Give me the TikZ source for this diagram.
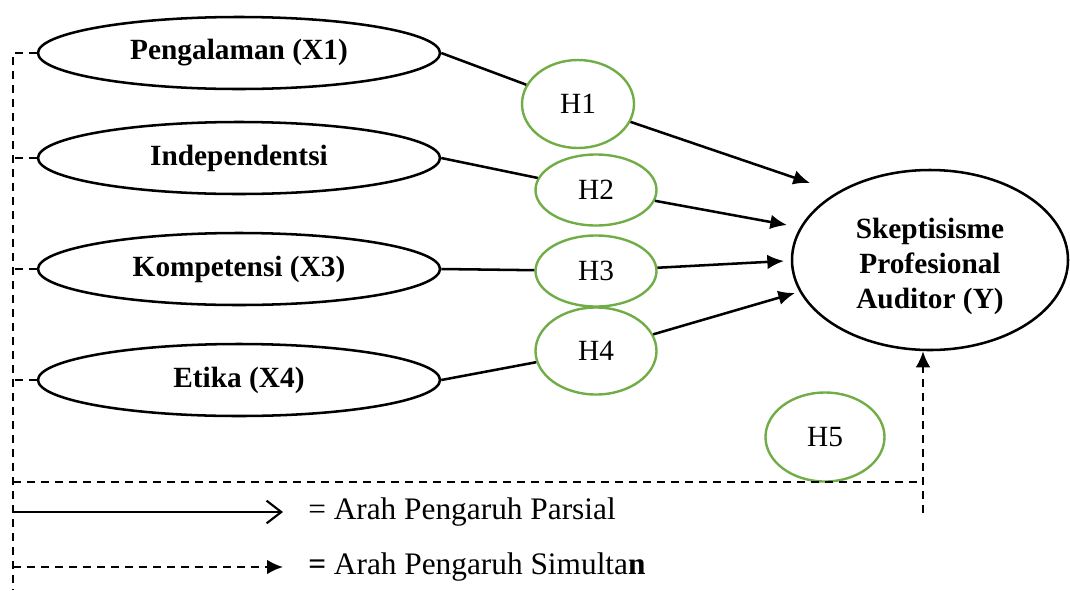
\documentclass[tikz,border=0pt]{standalone}
\usepackage{fontspec}
\setmainfont{Liberation Serif}
\usetikzlibrary{shapes.geometric}
\usetikzlibrary{arrows.meta}
\usetikzlibrary{positioning}
\definecolor{hgreen}{RGB}{112,173,71}
\tikzset{
var/.style={ellipse,draw,line width=1.9pt,minimum width=301.5pt,minimum height=54pt,inner sep=0pt,font=\fontsize{22}{26}\selectfont\bfseries},
hyp/.style={ellipse,draw=hgreen,line width=1.8pt,minimum width=90.75pt,minimum height=53.25pt,inner sep=0pt,font=\fontsize{22}{26}\selectfont},
part/.style={line width=1.9pt,-{Latex[length=12.5pt,width=11pt]}},
simul/.style={line width=1.6pt,dash pattern=on 6pt off 4.5pt},
legtext/.style={anchor=west,inner sep=0pt,font=\fontsize{23.5}{28}\selectfont}
}
\begin{document}
\begin{tikzpicture}[x=0.75pt,y=-0.75pt]
\useasboundingbox (0,0) rectangle (1070,590);
% variabel bebas
\foreach \i/\yy/\txt in {1/53/Pengalaman (X1),2/158/Independentsi,3/269/Kompetensi (X3),4/380/Etika (X4)} {
\node (x\i) at (239,\yy) [var] {\txt};
}
\node (Y) at (930,260) [ellipse,draw,line width=1.9pt,minimum width=207pt,minimum height=135pt,inner sep=0pt,font=\fontsize{22}{26}\selectfont\bfseries] {\raisebox{-10pt}[0pt][0pt]{\begin{tabular}{@{}c@{}}Skeptisisme\\Profesional\\Auditor (Y)\end{tabular}}};
% hipotesis
\node (h1) at (578,104) [hyp,minimum width=84pt,minimum height=66pt] {H1};
\node (h2) at (596,190) [hyp] {H2};
\node (h3) at (596,271) [hyp] {H3};
\node (h4) at (596,351) [hyp,minimum height=65.25pt] {H4};
\node (h5) at (825,437) [hyp,minimum width=89.25pt,minimum height=66.75pt] {H5};
\coordinate (y1) at (810,183);
\coordinate (y2) at (787,225);
\coordinate (y3) at (784,261);
\coordinate (y4) at (795,293);
\foreach \i in {1,2,3,4} {
\draw[line width=1.9pt] (x\i.east) -- (h\i);
\draw[part] (h\i) -- (y\i);
}
% garis simultan
\coordinate (lb) at (13,590);
\coordinate (hl) at (13,482);
\coordinate (hr) at (923,482);
\coordinate (vs) at (923,513);
\draw[simul] (x1.west) -| (lb);
\foreach \i in {2,3,4} {
\draw[simul] (x\i.west) -- (x\i.west -| lb);
}
\draw[simul] (hl) -- (hr);
\draw[simul,-{Latex[length=12pt,width=11pt]}] (vs) -- (vs |- Y.south);
% keterangan
\coordinate (p0) at (13,512);
\coordinate (p1) at (283,512);
\coordinate (s0) at (13,567);
\coordinate (s1) at (283,567);
\draw[line width=1.6pt,-{Straight Barb[length=11pt,width=17pt,line width=1.6pt]}] (p0) -- (p1);
\draw[simul,-{Latex[length=12pt,width=11pt]}] (s0) -- (s1);
\node (lp) at (308,512) [legtext] {= Arah Pengaruh Parsial};
\node (ls) at (308,567) [legtext] {\textbf{=} Arah Pengaruh Simulta\textbf{n}};
\end{tikzpicture}
\end{document}
